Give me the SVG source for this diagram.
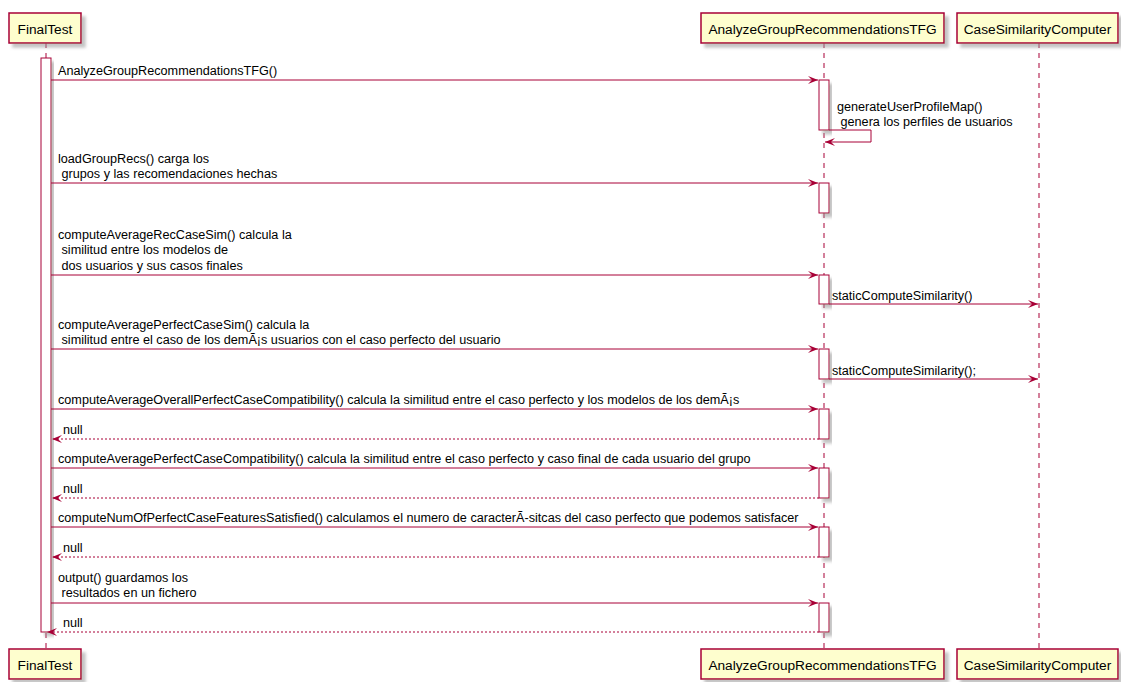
<svg xmlns="http://www.w3.org/2000/svg" width="1121" height="682" viewBox="0 0 1121 682">
<defs>
<filter id="sh" x="-20%" y="-20%" width="150%" height="150%">
<feGaussianBlur in="SourceAlpha" stdDeviation="1.7" result="b"/>
<feOffset in="b" dx="4" dy="4" result="o"/>
<feColorMatrix in="o" type="matrix" values="0 0 0 0 0.3  0 0 0 0 0.3  0 0 0 0 0.3  0 0 0 0.55 0" result="c"/>
<feMerge><feMergeNode in="c"/><feMergeNode in="SourceGraphic"/></feMerge>
</filter>
<marker id="ah" markerUnits="userSpaceOnUse" markerWidth="12" markerHeight="10" refX="10" refY="4" orient="auto" overflow="visible">
<path d="M0,0 L10,4 L0,8 L4,4 Z" fill="#A80036"/>
</marker>
<style>
.life{stroke:#A80036;stroke-width:1;stroke-dasharray:5,5;fill:none}
.part{fill:#FEFECE;stroke:#A80036;stroke-width:1.5;filter:url(#sh)}
.act{fill:#FFFFFF;stroke:#A80036;stroke-width:1;filter:url(#sh)}
.pt{font-family:"Liberation Sans",Arial,sans-serif;font-size:13.7px;fill:#000}
.msg{stroke:#A80036;stroke-width:1;fill:none;marker-end:url(#ah)}
.ret{stroke:#A80036;stroke-width:1;fill:none;stroke-dasharray:2,2;marker-end:url(#ah)}
.mt{font-family:"Liberation Sans",Arial,sans-serif;font-size:12.65px;fill:#000;white-space:pre}
</style>
</defs>
<rect width="1121" height="682" fill="#FFFFFF"/>

<g id="lifelines">
<line class="life" x1="46" y1="43" x2="46" y2="649"/>
<line class="life" x1="824" y1="43" x2="824" y2="649"/>
<line class="life" x1="1039" y1="43" x2="1039" y2="649"/>
</g>

<g id="FinalTest">
<rect class="part" x="9" y="13" width="72" height="30"/>
<text class="pt" x="45" y="34" text-anchor="middle">FinalTest</text>
<rect class="part" x="9" y="649" width="72" height="30"/>
<text class="pt" x="45" y="670" text-anchor="middle">FinalTest</text>
<rect class="act" x="41" y="58" width="10" height="574"/>
</g>

<g id="AnalyzeGroupRecommendationsTFG">
<rect class="part" x="701" y="13" width="243" height="30"/>
<text class="pt" x="822.5" y="34" text-anchor="middle">AnalyzeGroupRecommendationsTFG</text>
<rect class="part" x="701" y="649" width="243" height="30"/>
<text class="pt" x="822.5" y="670" text-anchor="middle">AnalyzeGroupRecommendationsTFG</text>
<rect class="act" x="819" y="80" width="10" height="50"/>
<rect class="act" x="819" y="183" width="10" height="30"/>
<rect class="act" x="819" y="275" width="10" height="29"/>
<rect class="act" x="819" y="349" width="10" height="30"/>
<rect class="act" x="819" y="409" width="10" height="30"/>
<rect class="act" x="819" y="468" width="10" height="30"/>
<rect class="act" x="819" y="527" width="10" height="30"/>
<rect class="act" x="819" y="603" width="10" height="29"/>
</g>

<g id="CaseSimilarityComputer">
<rect class="part" x="957" y="13" width="161" height="30"/>
<text class="pt" x="1037.5" y="34" text-anchor="middle">CaseSimilarityComputer</text>
<rect class="part" x="957" y="649" width="161" height="30"/>
<text class="pt" x="1037.5" y="670" text-anchor="middle">CaseSimilarityComputer</text>
</g>

<g id="connectors">
<line class="msg" x1="51" y1="80" x2="818" y2="80"/>
<text class="mt" x="58" y="75">AnalyzeGroupRecommendationsTFG()</text>

<polyline class="msg" points="829,130 871,130 871,142 825,142"/>
<text class="mt" x="837" y="111">generateUserProfileMap()</text>
<text class="mt" x="837" y="126"> genera los perfiles de usuarios</text>

<line class="msg" x1="51" y1="183" x2="818" y2="183"/>
<text class="mt" x="58" y="163">loadGroupRecs() carga los</text>
<text class="mt" x="58" y="178"> grupos y las recomendaciones hechas</text>

<line class="msg" x1="51" y1="275" x2="818" y2="275"/>
<text class="mt" x="58" y="239">computeAverageRecCaseSim() calcula la</text>
<text class="mt" x="58" y="254"> similitud entre los modelos de</text>
<text class="mt" x="58" y="270"> dos usuarios y sus casos finales</text>

<line class="msg" x1="829" y1="304" x2="1038" y2="304"/>
<text class="mt" x="832" y="300">staticComputeSimilarity()</text>

<line class="msg" x1="51" y1="349" x2="818" y2="349"/>
<text class="mt" x="58" y="329">computeAveragePerfectCaseSim() calcula la</text>
<text class="mt" x="58" y="344"> similitud entre el caso de los demÃ¡s usuarios con el caso perfecto del usuario</text>

<line class="msg" x1="829" y1="379" x2="1038" y2="379"/>
<text class="mt" x="832" y="375">staticComputeSimilarity();</text>

<line class="msg" x1="51" y1="409" x2="818" y2="409"/>
<text class="mt" x="58" y="404">computeAverageOverallPerfectCaseCompatibility() calcula la similitud entre el caso perfecto y los modelos de los demÃ¡s</text>
<line class="ret" x1="819" y1="439" x2="52" y2="439"/>
<text class="mt" x="63" y="434">null</text>

<line class="msg" x1="51" y1="468" x2="818" y2="468"/>
<text class="mt" x="58" y="463">computeAveragePerfectCaseCompatibility() calcula la similitud entre el caso perfecto y caso final de cada usuario del grupo</text>
<line class="ret" x1="819" y1="498" x2="52" y2="498"/>
<text class="mt" x="63" y="493">null</text>

<line class="msg" x1="51" y1="527" x2="818" y2="527"/>
<text class="mt" x="58" y="522">computeNumOfPerfectCaseFeaturesSatisfied() calculamos el numero de caracterÃ-sitcas del caso perfecto que podemos satisfacer</text>
<line class="ret" x1="819" y1="557" x2="52" y2="557"/>
<text class="mt" x="63" y="552">null</text>

<line class="msg" x1="51" y1="603" x2="818" y2="603"/>
<text class="mt" x="58" y="582">output() guardamos los</text>
<text class="mt" x="58" y="597"> resultados en un fichero</text>
<line class="ret" x1="819" y1="632" x2="47" y2="632"/>
<text class="mt" x="63" y="627">null</text>
</g>
</svg>
